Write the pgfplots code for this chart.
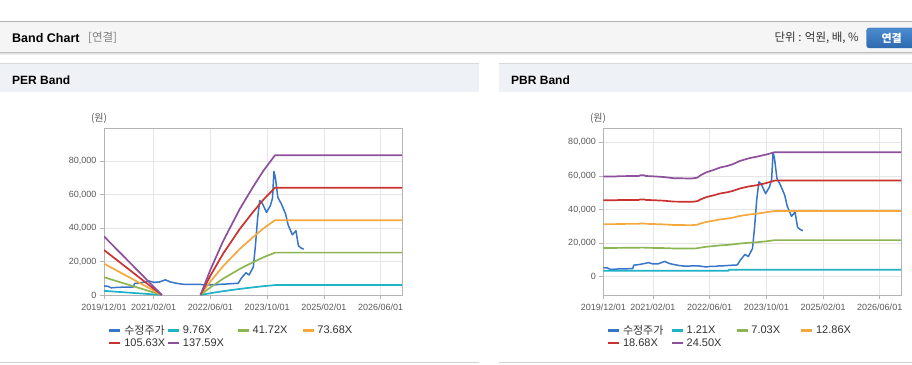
\documentclass[border=0pt]{standalone}
\usepackage{pgfplots}
\pgfplotsset{compat=1.18}
\usepackage{pgfplotstable}
\usepackage{fontspec}
\setmainfont{Liberation Sans}
\newfontfamily\kr{Noto Sans CJK KR}
\definecolor{cprice}{HTML}{3775C8}
\definecolor{ccyan}{HTML}{1FB3C8}
\definecolor{cgreen}{HTML}{8DB653}
\definecolor{corange}{HTML}{F5A93D}
\definecolor{cred}{HTML}{C9322F}
\definecolor{cpurple}{HTML}{8E4F9C}
\definecolor{axisgray}{HTML}{B4B4B4}
\definecolor{gridgray}{HTML}{E6E6E6}
\definecolor{tickgray}{HTML}{5A5A5A}
\definecolor{panelhead}{HTML}{EEF1F6}
\definecolor{btntop}{HTML}{4B8BD0}
\definecolor{btnbot}{HTML}{2D69AE}

\pgfplotstableread{
m v
0 5400
1.2 5200
2 4300
4 4600
6 4700
8.3 4800
8.6 6900
10 7200
11.5 7800
12.7 8400
14 7600
15.5 7700
17.3 9100
18.6 7900
20 7200
21.6 6600
23 6300
25 6400
27 6400
29 5800
30.3 6200
31.5 6100
32.5 6400
34 6500
36 6800
37.8 7000
38.7 10000
40 13300
40.9 12000
42.1 16800
42.7 30000
43.3 46000
43.9 56500
44.6 55000
45.8 49500
46.9 53500
47.5 58000
47.9 74000
48.3 70500
49 58500
50 54500
51.2 48500
51.9 42000
53.1 36000
54.1 38500
54.8 29500
55.5 28200
56.3 27400
}\price

\pgfplotstableread{
m c g o r p
0 2489 10639 18788 26936 35085
16.3 0 0 0 0 0
16.4 nan nan nan nan nan
27.2 0 0 0 0 0
30 1074 4589 8105 11619 15135
33.6 2294 9804 17315 24823 32334
38.3 3660 15645 27630 39611 51596
42 4587 19608 34630 49646 64667
44.9 5270 22529 39787 57040 74299
48.2 5934 25366 44797 64223 83655
84 5934 25366 44797 64223 83655
}\perband

\pgfplotstableread{
m g o r p
0 17128 31337 45515 59700
3.5 17128 31337 45515 59700
4.2 17185 31442 45668 59900
10 17214 31494 45744 60000
10.4 17329 31704 46049 60400
11.5 17329 31704 46049 60400
12 17214 31494 45744 60000
14.1 17157 31389 45591 59800
17 17042 31179 45287 59400
19.8 16841 30812 44753 58700
24.9 16784 30707 44600 58500
26.5 16927 30969 44982 59000
27.5 17357 31756 46125 60500
29.2 17874 32701 47497 62300
31 18218 33331 48412 63500
32.9 18649 34119 49556 65000
35 18935 34643 50318 66000
36.5 19222 35168 51081 67000
38.6 19796 36218 52606 69000
41 20226 37005 53749 70500
43.3 20513 37530 54512 71500
46 21100 38400 55800 72800
48.4 21800 39200 57300 74200
84 21800 39200 57300 74200
}\pbrband

\pgfplotstableread{
m c
0 3500
35.3 3500
35.4 4100
84 4100
}\pbrcyan

\pgfplotsset{
  bandax/.style={
    scale only axis, width=298pt, height=167pt,
    xmin=0, xmax=84,
    xtick={0,14,30,46,62,78},
    xticklabels={2019/12/01,2021/02/01,2022/06/01,2023/10/01,2025/02/01,2026/06/01},
    ytick={0,20000,40000,60000,80000},
    scaled y ticks=false,
    axis line style={draw=axisgray, line width=0.8pt},
    grid=major, major grid style={draw=gridgray, line width=0.8pt},
    tick align=outside, major tick length=4pt,
    tick style={draw=axisgray, line width=0.8pt},
    xtick pos=bottom, ytick pos=left,
    ticklabel style={font=\fontsize{9}{10}\selectfont, text=tickgray},
    xticklabel style={yshift=-1.5pt},
    /pgf/number format/1000 sep={,},
    /pgf/number format/assume math mode=true,
    unbounded coords=jump,
    legend columns=4,
    legend cell align=left,
    legend image code/.code={\draw[##1, line width=2.5pt] (0pt,0pt) -- (11pt,0pt);},
    legend style={draw=none, fill=none, inner sep=0pt, anchor=north west,
      font=\fontsize{11}{12}\selectfont, text=black!80,
      nodes={inner sep=0.6pt},
      /tikz/every odd column/.append style={column sep=2pt},
      row sep=1.5pt},
    every axis plot/.append style={line width=1.7pt, line join=round},
  }
}

\begin{document}
\begin{tikzpicture}[x=1pt,y=1pt]
\path[use as bounding box] (0,0) rectangle (912,364);
\fill[white] (0,0) rectangle (912,364);
% header bar
\fill[black!4] (0,312) rectangle (912,342);
\draw[black!30, line width=1pt] (0,342) -- (912,342);
\draw[black!25, line width=1pt] (0,311.5) -- (912,311.5);
\draw[black!12, line width=1pt] (0,310.5) -- (912,310.5);
\draw[black!6, line width=1pt] (0,309.5) -- (912,309.5);
% panel headers
\fill[panelhead] (0,272) rectangle (479,300);
\fill[panelhead] (499,272) rectangle (912,300);
\draw[black!15, line width=1pt] (0,300) -- (479,300);
\draw[black!15, line width=1pt] (499,300) -- (912,300);
\draw[black!18, line width=1pt] (0,1.5) -- (479,1.5);
\draw[black!18, line width=1pt] (499,1.5) -- (912,1.5);
% texts
\node[anchor=west, inner sep=0pt, font=\fontsize{12.5}{14}\selectfont\bfseries] at (12,326) {Band Chart};
\node[anchor=west, inner sep=0pt, text=black!50, font=\kr\fontsize{11.5}{13}\selectfont] at (88,326) {[연결]};
\node[anchor=east, inner sep=0pt, text=black!80, font=\kr\fontsize{11.5}{13}\selectfont] at (859,326) {단위 : 억원, 배, \%};
\draw[rounded corners=3pt, draw=btnbot, top color=btntop, bottom color=btnbot] (866.5,316) rectangle (925,336);
\node[text=white, font=\kr\bfseries\fontsize{11}{13}\selectfont] at (891.7,326) {연결};
\node[anchor=west, inner sep=0pt, font=\fontsize{12}{14}\selectfont\bfseries] at (12,283.5) {PER Band};
\node[anchor=west, inner sep=0pt, font=\fontsize{12}{14}\selectfont\bfseries] at (511,283.5) {PBR Band};
\node[text=tickgray, font=\kr\fontsize{10}{12}\selectfont] at (99,246) {(원)};
\node[text=tickgray, font=\kr\fontsize{10}{12}\selectfont] at (598,246) {(원)};

\begin{axis}[bandax, at={(104pt,69pt)}, anchor=south west, ymin=0, ymax=100000,
  legend style={at={(axis description cs:0.0134,-0.175)}}]
\addplot[cprice, line width=1.5pt] table[x=m,y=v]{\price};
\addplot[ccyan] table[x=m,y=c]{\perband};
\addplot[cgreen] table[x=m,y=g]{\perband};
\addplot[corange] table[x=m,y=o]{\perband};
\addplot[cred] table[x=m,y=r]{\perband};
\addplot[cpurple] table[x=m,y=p]{\perband};
\legend{\makebox[42pt][l]{\kr 수정주가}, \makebox[53pt][l]{9.76X}, \makebox[48pt][l]{41.72X}, 73.68X, 105.63X, 137.59X}
\end{axis}

\begin{axis}[bandax, at={(603.3pt,69pt)}, anchor=south west, width=297.7pt, ymin=-10900, ymax=88600,
  legend style={at={(axis description cs:0.0114,-0.175)}}]
\addplot[cprice, line width=1.5pt] table[x=m,y=v]{\price};
\addplot[ccyan] table[x=m,y=c]{\pbrcyan};
\addplot[cgreen] table[x=m,y=g]{\pbrband};
\addplot[corange] table[x=m,y=o]{\pbrband};
\addplot[cred] table[x=m,y=r]{\pbrband};
\addplot[cpurple] table[x=m,y=p]{\pbrband};
\legend{\makebox[47pt][l]{\kr 수정주가}, \makebox[48pt][l]{1.21X}, \makebox[48pt][l]{7.03X}, 12.86X, 18.68X, 24.50X}
\end{axis}
\end{tikzpicture}
\end{document}
